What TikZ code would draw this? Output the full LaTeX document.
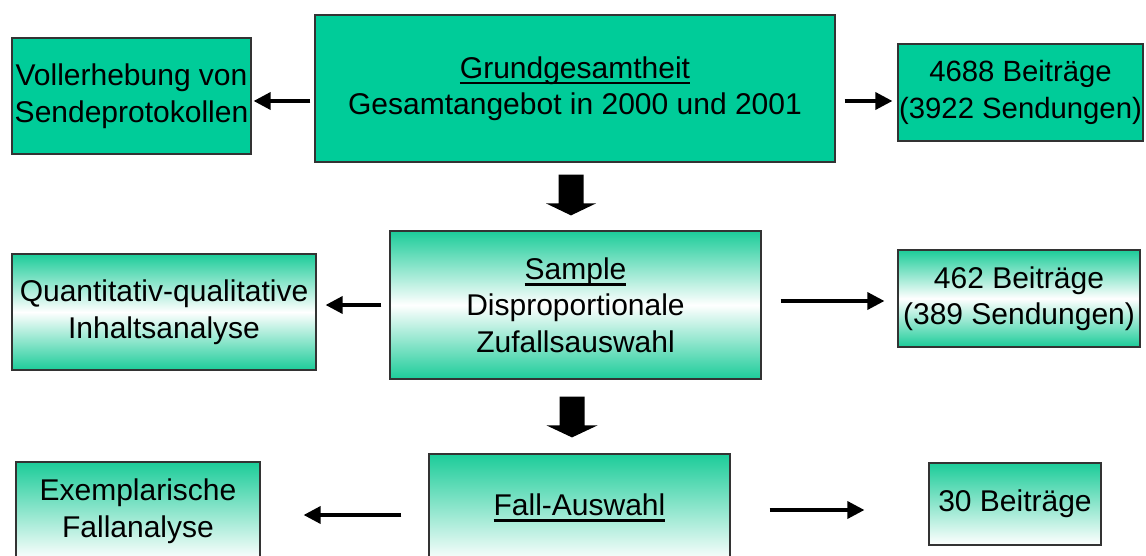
\documentclass[tikz,border=0pt]{standalone}
\usepackage{fontspec}
\setmainfont{Liberation Sans}
\usetikzlibrary{arrows.meta,calc}
\definecolor{boxgreen}{RGB}{0,204,153}
\definecolor{gradgreen}{RGB}{28,204,153}
\definecolor{edge}{RGB}{51,51,51}
\newsavebox\ulbox
\newcommand\myul[1]{\sbox\ulbox{#1}\rlap{\rule[-6.3pt]{\wd\ulbox}{2.8pt}}\usebox\ulbox}
\tikzset{
  basebox/.style={draw=edge, line width=1.2pt, inner sep=0pt, align=center,
    font=\fontsize{30}{36.5}\selectfont},
  solidbox/.style={basebox, fill=boxgreen},
  midbox/.style={basebox, top color=gradgreen, bottom color=gradgreen, middle color=white},
  lowbox/.style={basebox, top color=gradgreen, bottom color=white},
  arr/.style={line width=3.5pt, -{Triangle[length=17pt,width=17pt]}},
  blockfill/.style={fill=black}
}
\begin{document}
\begin{tikzpicture}[x=1pt,y=-1pt]
\useasboundingbox (0,0) rectangle (1146,556);
\begin{scope}
\clip (0,0) rectangle (1146,556);
% top row
\node[solidbox, minimum width=239pt, minimum height=116pt] (A) at (131.5,96) {Vollerhebung von\\Sendeprotokollen};
\node[solidbox, minimum width=520pt, minimum height=147pt] (B) at (575,88.5) {\myul{Grundgesamtheit}\\Gesamtangebot in 2000 und 2001};
\node[solidbox, minimum width=245pt, minimum height=97pt, font=\fontsize{29.3}{36.5}\selectfont] (C) at (1020.5,92.5) {4688 Beiträge\\(3922 Sendungen)};
% middle row
\node[midbox, minimum width=304pt, minimum height=116pt] (D) at (164,312) {Quantitativ-qualitative\\Inhaltsanalyse};
\node[midbox, minimum width=371pt, minimum height=148pt] (E) at (575.5,305) {\myul{Sample}\\Disproportionale\\Zufallsauswahl};
\node[midbox, minimum width=242pt, minimum height=97pt] (F) at (1019,298.5) {462 Beiträge\\(389 Sendungen)};
% bottom row
\node[lowbox, minimum width=244pt, minimum height=98pt] (G) at (138,511) {Exemplarische\\Fallanalyse};
\node[lowbox, minimum width=301pt, minimum height=108pt] (H) at (579.5,508) {\myul{Fall-Auswahl}};
\node[lowbox, minimum width=172pt, minimum height=82pt] (I) at (1015,504) {30 Beiträge};
% thin arrows
\draw[arr] ($(B.west)+(-4,12.5)$) -- ($(A.east)+(2,5)$);
\draw[arr] ($(B.east)+(9,12.5)$) -- ($(C.west)+(-5,8.5)$);
\draw[arr] ($(E.west)+(-8,0)$) -- ($(D.east)+(9,-7)$);
\draw[arr] ($(E.east)+(19,-4)$) -- ($(F.west)+(-13,2.5)$);
\draw[arr] ($(H.west)+(-27,7)$) -- ($(G.east)+(43,4)$);
\draw[arr] ($(H.east)+(39,2)$) -- ($(I.west)+(-64,6)$);
% block arrows
\coordinate (b1s) at ($(B.south)+(-4,12)$);
\coordinate (b1t) at ($(E.north)+(-4.5,-15)$);
\coordinate (b2s) at ($(E.south)+(-3.5,17)$);
\coordinate (b2t) at ($(H.north)+(-7.5,-16)$);
\fill[blockfill] (b1s) ++(-12.5,0) -- ++(25,0) -- ($(b1t)+(12.5,-12)$) -- ++(12.5,0) -- (b1t) -- ++(-25,-12) -- ++(12.5,0) -- cycle;
\fill[blockfill] (b2s) ++(-12.5,0) -- ++(25,0) -- ($(b2t)+(12.5,-12)$) -- ++(13,0) -- (b2t) -- ++(-25.5,-12) -- ++(13,0) -- cycle;
\end{scope}
\end{tikzpicture}
\end{document}
